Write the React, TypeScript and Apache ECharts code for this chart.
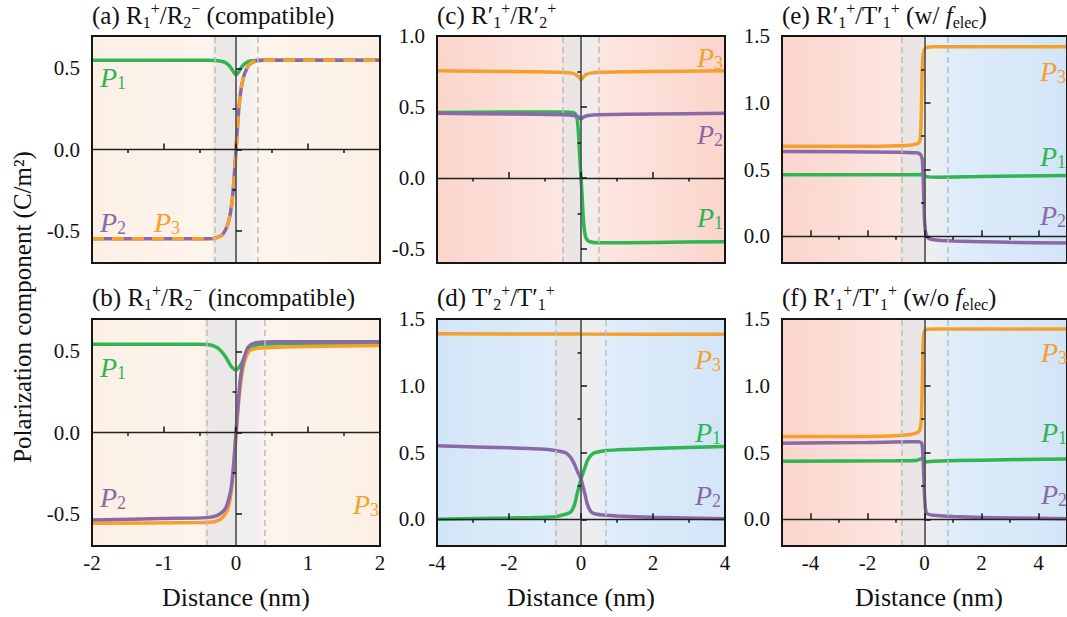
import React, { useEffect, useRef } from 'react';
import * as echarts from 'echarts';

const FONT = 'Liberation Serif';
const GREEN = '#2fb552';
const PURPLE = '#8b69a8';
const ORANGE = '#f5a02c';

// ---------------- Data ----------------
// (a) R1+/R2- (compatible)
const aP1 = [[-2, 0.55], [-0.4, 0.55], [-0.25, 0.548], [-0.17, 0.54], [-0.1, 0.52], [-0.05, 0.49], [0, 0.46], [0.04, 0.48], [0.08, 0.51], [0.14, 0.535], [0.22, 0.547], [0.35, 0.55], [2, 0.55]];
const aP2 = [[-2, -0.55], [-0.4, -0.55], [-0.3, -0.548], [-0.2, -0.53], [-0.15, -0.5], [-0.1, -0.44], [-0.06, -0.34], [-0.03, -0.2], [0, 0], [0.03, 0.2], [0.06, 0.34], [0.1, 0.44], [0.15, 0.5], [0.2, 0.53], [0.3, 0.548], [0.4, 0.55], [2, 0.55]];
const aP3 = [[-2, -0.55], [-0.4, -0.55], [-0.3, -0.548], [-0.2, -0.53], [-0.15, -0.5], [-0.1, -0.44], [-0.06, -0.34], [-0.03, -0.2], [0, 0], [0.03, 0.2], [0.06, 0.34], [0.1, 0.44], [0.15, 0.5], [0.2, 0.53], [0.3, 0.548], [0.4, 0.55], [2, 0.55]];

// (b) R1+/R2- (incompatible)
const bP1 = [[-2, 0.545], [-0.5, 0.545], [-0.35, 0.54], [-0.25, 0.52], [-0.15, 0.47], [-0.07, 0.41], [0, 0.385], [0.07, 0.42], [0.15, 0.49], [0.25, 0.53], [0.35, 0.545], [2, 0.55]];
const bP2 = [[-2, -0.54], [-1, -0.53], [-0.4, -0.525], [-0.25, -0.51], [-0.15, -0.47], [-0.1, -0.41], [-0.06, -0.32], [-0.03, -0.18], [0, 0], [0.03, 0.18], [0.06, 0.33], [0.1, 0.44], [0.15, 0.51], [0.2, 0.54], [0.3, 0.555], [0.5, 0.56], [2, 0.56]];
const bP3 = [[-2, -0.56], [-0.5, -0.555], [-0.3, -0.55], [-0.2, -0.53], [-0.12, -0.48], [-0.07, -0.38], [-0.03, -0.2], [0, -0.02], [0.03, 0.15], [0.07, 0.32], [0.12, 0.44], [0.18, 0.5], [0.25, 0.515], [0.4, 0.522], [1, 0.53], [2, 0.537]];

// (c) R'1+/R'2+
const cP1 = [[-4, 0.46], [-2, 0.465], [-0.5, 0.465], [-0.2, 0.46], [-0.12, 0.43], [-0.08, 0.35], [-0.05, 0.22], [-0.02, 0.08], [0, 0], [0.03, -0.12], [0.06, -0.27], [0.1, -0.38], [0.15, -0.43], [0.25, -0.45], [0.5, -0.458], [2, -0.455], [4, -0.45]];
const cP2 = [[-4, 0.455], [-2, 0.45], [-0.5, 0.445], [-0.2, 0.44], [-0.08, 0.43], [0, 0.415], [0.08, 0.43], [0.2, 0.44], [0.5, 0.445], [2, 0.45], [4, 0.455]];
const cP3 = [[-4, 0.755], [-2, 0.75], [-0.6, 0.745], [-0.3, 0.74], [-0.15, 0.73], [-0.06, 0.71], [0, 0.69], [0.06, 0.71], [0.15, 0.73], [0.3, 0.74], [0.6, 0.745], [2, 0.75], [4, 0.755]];

// (d) T'2+/T'1+
const dP1 = [[-4, 0.0], [-2, 0.01], [-0.7, 0.02], [-0.4, 0.04], [-0.28, 0.055], [-0.18, 0.11], [-0.1, 0.2], [0, 0.3], [0.1, 0.38], [0.18, 0.44], [0.28, 0.48], [0.4, 0.5], [0.7, 0.515], [1, 0.52], [2, 0.53], [4, 0.545]];
const dP2 = [[-4, 0.55], [-2, 0.535], [-1, 0.525], [-0.6, 0.51], [-0.4, 0.495], [-0.28, 0.46], [-0.18, 0.41], [-0.1, 0.36], [0, 0.3], [0.1, 0.2], [0.18, 0.11], [0.28, 0.055], [0.4, 0.04], [0.7, 0.03], [1, 0.025], [2, 0.015], [4, 0.005]];
const dP3 = [[-4, 1.39], [0, 1.387], [4, 1.385]];

// (e) R'1+/T'1+ (w/ f_elec)
const eP1 = [[-5, 0.46], [-1, 0.46], [-0.1, 0.462], [0, 0.455], [0.1, 0.445], [0.5, 0.443], [2, 0.448], [5, 0.455]];
const eP2 = [[-5, 0.635], [-1, 0.63], [-0.3, 0.625], [-0.15, 0.615], [-0.08, 0.58], [-0.05, 0.45], [-0.02, 0.25], [0, 0.12], [0.04, 0.03], [0.1, -0.005], [0.2, -0.02], [0.5, -0.03], [1, -0.035], [3, -0.045], [5, -0.05]];
const eP3 = [[-5, 0.675], [-2, 0.675], [-0.6, 0.68], [-0.3, 0.69], [-0.2, 0.7], [-0.15, 0.73], [-0.12, 0.85], [-0.1, 1.05], [-0.08, 1.25], [-0.05, 1.36], [0, 1.4], [0.08, 1.415], [0.3, 1.42], [5, 1.42]];

// (f) R'1+/T'1+ (w/o f_elec)
const fP1 = [[-5, 0.435], [-1, 0.438], [-0.3, 0.44], [-0.1, 0.455], [-0.03, 0.46], [0, 0.44], [0.05, 0.43], [0.3, 0.435], [2, 0.443], [5, 0.452]];
const fP2 = [[-5, 0.57], [-2, 0.575], [-0.5, 0.58], [-0.2, 0.58], [-0.1, 0.57], [-0.06, 0.5], [-0.03, 0.35], [0, 0.18], [0.04, 0.07], [0.1, 0.04], [0.3, 0.03], [1, 0.02], [3, 0.01], [5, 0.005]];
const fP3 = [[-5, 0.62], [-2, 0.62], [-1, 0.625], [-0.5, 0.635], [-0.3, 0.645], [-0.18, 0.66], [-0.12, 0.72], [-0.09, 0.9], [-0.07, 1.1], [-0.05, 1.3], [-0.02, 1.39], [0.05, 1.42], [0.3, 1.425], [5, 1.425]];

// Axis ranges and tick values
const xRangeAB = [-2, 2];
const xMajorAB = [-2, -1, 0, 1, 2];
const xMinorAB = [-1.5, -0.5, 0.5, 1.5];
const xRangeCD = [-4, 4];
const xMajorCD = [-4, -2, 0, 2, 4];
const xMinorCD = [-3, -1, 1, 3];
const xRangeEF = [-5, 5];
const xMajorEF = [-4, -2, 0, 2, 4];
const xMinorEF = [-3, -1, 1, 3];
const yRangeAB = [-0.7, 0.7];
const yMajorAB = [-0.5, 0, 0.5];
const yMinorAB = [-0.25, 0.25];
const yRangeC = [-0.6, 1.0];
const yMajorC = [-0.5, 0, 0.5, 1.0];
const yMinorC = [-0.25, 0.25, 0.75];
const yRangeDEF = [-0.2, 1.5];
const yMajorDEF = [0, 0.5, 1.0, 1.5];
const yMinorDEF = [0.25, 0.75, 1.25];

// Interface region half-widths (nm)
const interfaceHalfWidth = [0.3, 0.4, 0.5, 0.7, 0.8, 0.8];

// ---------------- Layout / styles ----------------
const PEACH = { edge: '#fcf0e5', mid: '#fdf5ee' };
const PINK = { edge: '#fad5cc', mid: '#fde9e4' };
const BLUE = { edge: '#d2e5f7', mid: '#e2eefb' };

type Panel = {
  left: number; top: number; xRange: number[]; xMajor: number[]; xMinor: number[];
  yRange: number[]; yMajor: number[]; yMinor: number[]; xLabels: boolean;
  bgLeft: { edge: string; mid: string }; bgRight: { edge: string; mid: string };
  lines: { data: number[][]; color: string; dashed?: boolean }[];
  title: string; titleX: number; titleY: number;
  labels: { t: string; color: string; x: number; y: number }[];
};

const TITLE_A = '{n|(a) R}{sub|1}{sup|+}{n|/R}{sub|2}{sup|\u2212}{n| (compatible)}';
const TITLE_B = '{n|(b) R}{sub|1}{sup|+}{n|/R}{sub|2}{sup|\u2212}{n| (incompatible)}';
const TITLE_C = '{n|(c) R\u2032}{sub|1}{sup|+}{n|/R\u2032}{sub|2}{sup|+}';
const TITLE_D = '{n|(d) T\u2032}{sub|2}{sup|+}{n|/T\u2032}{sub|1}{sup|+}';
const TITLE_E = '{n|(e) R\u2032}{sub|1}{sup|+}{n|/T\u2032}{sub|1}{sup|+}{n| (w/ }{it|f}{sub|elec}{n|)}';
const TITLE_F = '{n|(f) R\u2032}{sub|1}{sup|+}{n|/T\u2032}{sub|1}{sup|+}{n| (w/o }{it|f}{sub|elec}{n|)}';

const W = 288, H = 227;

const panels: Panel[] = [
  {
    left: 92, top: 36, xRange: xRangeAB, xMajor: xMajorAB, xMinor: xMinorAB, yRange: yRangeAB, yMajor: yMajorAB, yMinor: yMinorAB,
    xLabels: false, bgLeft: PEACH, bgRight: PEACH,
    lines: [{ data: aP1, color: GREEN }, { data: aP2, color: PURPLE }, { data: aP3, color: ORANGE, dashed: true }],
    title: TITLE_A, titleX: 92, titleY: 15,
    labels: [{ t: '1', color: GREEN, x: 100, y: 77 }, { t: '2', color: PURPLE, x: 100, y: 222 }, { t: '3', color: ORANGE, x: 154, y: 222 }],
  },
  {
    left: 92, top: 319, xRange: xRangeAB, xMajor: xMajorAB, xMinor: xMinorAB, yRange: yRangeAB, yMajor: yMajorAB, yMinor: yMinorAB,
    xLabels: true, bgLeft: PEACH, bgRight: PEACH,
    lines: [{ data: bP1, color: GREEN }, { data: bP3, color: ORANGE }, { data: bP2, color: PURPLE }],
    title: TITLE_B, titleX: 92, titleY: 297,
    labels: [{ t: '1', color: GREEN, x: 100, y: 367 }, { t: '2', color: PURPLE, x: 100, y: 497 }, { t: '3', color: ORANGE, x: 353, y: 504 }],
  },
  {
    left: 437, top: 36, xRange: xRangeCD, xMajor: xMajorCD, xMinor: xMinorCD, yRange: yRangeC, yMajor: yMajorC, yMinor: yMinorC,
    xLabels: false, bgLeft: PINK, bgRight: PINK,
    lines: [{ data: cP1, color: GREEN }, { data: cP2, color: PURPLE }, { data: cP3, color: ORANGE }],
    title: TITLE_C, titleX: 437, titleY: 15,
    labels: [{ t: '3', color: ORANGE, x: 697, y: 57 }, { t: '2', color: PURPLE, x: 697, y: 134 }, { t: '1', color: GREEN, x: 697, y: 217 }],
  },
  {
    left: 437, top: 319, xRange: xRangeCD, xMajor: xMajorCD, xMinor: xMinorCD, yRange: yRangeDEF, yMajor: yMajorDEF, yMinor: yMinorDEF,
    xLabels: true, bgLeft: BLUE, bgRight: BLUE,
    lines: [{ data: dP1, color: GREEN }, { data: dP2, color: PURPLE }, { data: dP3, color: ORANGE }],
    title: TITLE_D, titleX: 437, titleY: 297,
    labels: [{ t: '3', color: ORANGE, x: 695, y: 359 }, { t: '1', color: GREEN, x: 695, y: 432 }, { t: '2', color: PURPLE, x: 695, y: 495 }],
  },
  {
    left: 782, top: 36, xRange: xRangeEF, xMajor: xMajorEF, xMinor: xMinorEF, yRange: yRangeDEF, yMajor: yMajorDEF, yMinor: yMinorDEF,
    xLabels: false, bgLeft: PINK, bgRight: BLUE,
    lines: [{ data: eP1, color: GREEN }, { data: eP2, color: PURPLE }, { data: eP3, color: ORANGE }],
    title: TITLE_E, titleX: 782, titleY: 15,
    labels: [{ t: '3', color: ORANGE, x: 1040, y: 71 }, { t: '1', color: GREEN, x: 1040, y: 156 }, { t: '2', color: PURPLE, x: 1040, y: 215 }],
  },
  {
    left: 782, top: 319, xRange: xRangeEF, xMajor: xMajorEF, xMinor: xMinorEF, yRange: yRangeDEF, yMajor: yMajorDEF, yMinor: yMinorDEF,
    xLabels: true, bgLeft: PINK, bgRight: BLUE,
    lines: [{ data: fP1, color: GREEN }, { data: fP2, color: PURPLE }, { data: fP3, color: ORANGE }],
    title: TITLE_F, titleX: 782, titleY: 297,
    labels: [{ t: '3', color: ORANGE, x: 1041, y: 352 }, { t: '1', color: GREEN, x: 1041, y: 432 }, { t: '2', color: PURPLE, x: 1041, y: 494 }],
  },
];

function lg(stops: [number, string][]) {
  return new echarts.graphic.LinearGradient(0, 0, 1, 0, stops.map(([offset, color]) => ({ offset, color })));
}

function buildOption() {
  const grid: any[] = [];
  const xAxis: any[] = [];
  const yAxis: any[] = [];
  const series: any[] = [];
  const graphic: any[] = [];
  const ink = '#161616';

  panels.forEach((p, i) => {
    grid.push({ left: p.left, top: p.top, width: W, height: H, show: true, backgroundColor: 'transparent', borderColor: ink, borderWidth: 2, z: 10 });
    const xi = xAxis.length;
    xAxis.push({
      type: 'value', gridIndex: i, min: p.xRange[0], max: p.xRange[1], z: 10,
      axisLine: { show: false }, splitLine: { show: false },
      axisTick: { show: true, inside: true, length: 6, customValues: p.xMajor, lineStyle: { color: ink, width: 1.5 } },
      axisLabel: { show: p.xLabels, customValues: p.xMajor, margin: 6, fontSize: 21, fontFamily: FONT, color: '#111', formatter: (v: number) => String(v) },
    });
    xAxis.push({
      type: 'value', gridIndex: i, min: p.xRange[0], max: p.xRange[1], z: 10,
      axisLine: { show: false }, splitLine: { show: false }, axisLabel: { show: false },
      axisTick: { show: true, inside: true, length: 3.5, customValues: p.xMinor, lineStyle: { color: ink, width: 1.5 } },
    });
    const yi = yAxis.length;
    yAxis.push({
      type: 'value', gridIndex: i, min: p.yRange[0], max: p.yRange[1], z: 10,
      axisLine: { show: false }, splitLine: { show: false },
      axisTick: { show: true, inside: true, length: 6, customValues: p.yMajor, lineStyle: { color: ink, width: 1.5 } },
      axisLabel: { show: true, customValues: p.yMajor, margin: 12, fontSize: 21, fontFamily: FONT, color: '#111', formatter: (v: number) => v.toFixed(1) },
    });
    yAxis.push({
      type: 'value', gridIndex: i, min: p.yRange[0], max: p.yRange[1], z: 10,
      axisLine: { show: false }, splitLine: { show: false }, axisLabel: { show: false },
      axisTick: { show: true, inside: true, length: 3.5, customValues: p.yMinor, lineStyle: { color: ink, width: 1.5 } },
    });

    const b = interfaceHalfWidth[i];
    series.push({
      type: 'line', xAxisIndex: xi, yAxisIndex: yi, data: [], z: 1, silent: true,
      markArea: {
        silent: true,
        data: [
          [{ xAxis: p.xRange[0], itemStyle: { color: lg([[0, p.bgLeft.edge], [1, p.bgLeft.mid]]) } }, { xAxis: 0 }],
          [{ xAxis: 0, itemStyle: { color: lg([[0, p.bgRight.mid], [1, p.bgRight.edge]]) } }, { xAxis: p.xRange[1] }],
          [{ xAxis: -b * 1.12, itemStyle: { color: lg([[0, 'rgba(225,225,225,0)'], [0.1, 'rgba(228,228,228,0.7)'], [1, 'rgba(230,230,230,0.85)']]) } }, { xAxis: 0 }],
          [{ xAxis: 0, itemStyle: { color: lg([[0, 'rgba(238,238,238,0.92)'], [0.6, 'rgba(238,238,238,0.8)'], [1, 'rgba(238,238,238,0.2)']]) } }, { xAxis: b }],
        ],
      },
    });
    series.push({
      type: 'line', xAxisIndex: xi, yAxisIndex: yi, data: [], z: 2, silent: true,
      markLine: {
        silent: true, symbol: ['none', 'none'], label: { show: false },
        data: [
          { xAxis: -b, lineStyle: { color: '#bdbdbd', width: 1.5, type: [6, 4] } },
          { xAxis: b, lineStyle: { color: '#bdbdbd', width: 1.5, type: [6, 4] } },
          { yAxis: 0, lineStyle: { color: '#222', width: 1.3, type: 'solid' } },
          { xAxis: 0, lineStyle: { color: '#555', width: 1.7, type: 'solid' } },
        ],
      },
    });
    p.lines.forEach((ln) => {
      series.push({
        type: 'line', xAxisIndex: xi, yAxisIndex: yi, data: ln.data, z: ln.dashed ? 4 : 3, showSymbol: false, symbol: 'none', smooth: 0.25,
        lineStyle: { color: ln.color, width: 3.5, type: ln.dashed ? [12, 8] : 'solid' },
      });
    });

    graphic.push({
      type: 'text', x: p.titleX, y: p.titleY, z: 20,
      style: {
        text: p.title, align: 'left', verticalAlign: 'middle', fontFamily: FONT, fontSize: 25, fill: '#111',
        rich: {
          n: { fontFamily: FONT, fontSize: 25, lineHeight: 30, fill: '#111' },
          it: { fontFamily: FONT, fontSize: 25, lineHeight: 30, fontStyle: 'italic', fill: '#111' },
          sub: { fontFamily: FONT, fontSize: 16, lineHeight: 8, verticalAlign: 'bottom', fill: '#111' },
          sup: { fontFamily: FONT, fontSize: 16, lineHeight: 14, verticalAlign: 'top', fill: '#111' },
        },
      },
    });
    p.labels.forEach((lb) => {
      graphic.push({
        type: 'text', x: lb.x, y: lb.y, z: 20,
        style: {
          text: `{p|P}{s|${lb.t}}`, align: 'left', verticalAlign: 'middle', fontFamily: FONT, fill: lb.color,
          rich: {
            p: { fontFamily: FONT, fontSize: 28, fontStyle: 'italic', lineHeight: 30, fill: lb.color },
            s: { fontFamily: FONT, fontSize: 18, lineHeight: 6, verticalAlign: 'bottom', fill: lb.color },
          },
        },
      });
    });
    if (p.xLabels) {
      graphic.push({
        type: 'text', x: p.left + W / 2 + (i === 5 ? 3 : 0), y: 597, z: 20,
        style: { text: 'Distance (nm)', align: 'center', verticalAlign: 'middle', fontFamily: FONT, fontSize: 26, fill: '#111' },
      });
    }
  });

  graphic.push({
    type: 'text', x: 22, y: 307, rotation: Math.PI / 2, z: 20,
    style: { text: 'Polarization component (C/m\u00b2)', align: 'center', verticalAlign: 'middle', fontFamily: FONT, fontSize: 25, fill: '#111' },
  });

  return { animation: false, backgroundColor: '#fff', textStyle: { fontFamily: FONT }, grid, xAxis, yAxis, series, graphic };
}

export default function App() {
  const ref = useRef<HTMLDivElement>(null);
  useEffect(() => {
    if (!ref.current) return;
    const chart = echarts.init(ref.current, undefined, { renderer: 'svg' });
    chart.setOption(buildOption() as any);
    return () => chart.dispose();
  }, []);
  return <div ref={ref} style={{ position: 'fixed', left: 0, top: 0, width: 1067, height: 617, background: '#fff' }} />;
}
